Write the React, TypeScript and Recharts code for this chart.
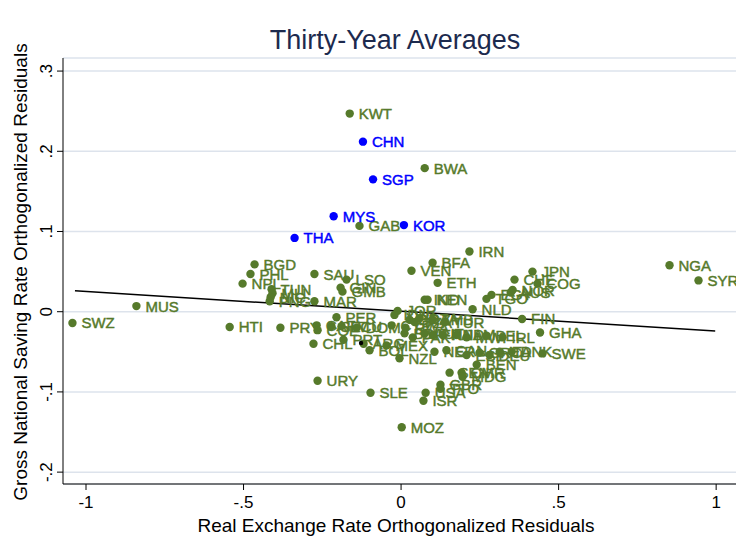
import { ScatterChart, Scatter, XAxis, YAxis, CartesianGrid, ReferenceLine } from "recharts";

// East Asian economies, highlighted in blue
const EAST_ASIA = [
  { code: "CHN", x: -0.121, y: 0.212 },
  { code: "SGP", x: -0.089, y: 0.165 },
  { code: "MYS", x: -0.214, y: 0.119 },
  { code: "KOR", x: 0.009, y: 0.108 },
  { code: "THA", x: -0.338, y: 0.092 },
];

// everyone else
const OTHERS = [
  { code: "KWT", x: -0.163, y: 0.247 },
  { code: "BWA", x: 0.075, y: 0.179 },
  { code: "GAB", x: -0.132, y: 0.107 },
  { code: "IRN", x: 0.217, y: 0.075 },
  { code: "BGD", x: -0.465, y: 0.059 },
  { code: "BFA", x: 0.1, y: 0.061 },
  { code: "PHL", x: -0.478, y: 0.047 },
  { code: "VEN", x: 0.033, y: 0.051 },
  { code: "SAU", x: -0.275, y: 0.047 },
  { code: "JPN", x: 0.417, y: 0.05 },
  { code: "LSO", x: -0.173, y: 0.04 },
  { code: "NPL", x: -0.503, y: 0.035 },
  { code: "ETH", x: 0.116, y: 0.036 },
  { code: "CHE", x: 0.36, y: 0.04 },
  { code: "COG", x: 0.433, y: 0.035 },
  { code: "NOR", x: 0.354, y: 0.027 },
  { code: "AUS", x: 0.348, y: 0.024 },
  { code: "EGY", x: 0.287, y: 0.021 },
  { code: "TGO", x: 0.271, y: 0.016 },
  { code: "IND", x: 0.075, y: 0.015 },
  { code: "KEN", x: 0.084, y: 0.015 },
  { code: "NLD", x: 0.227, y: 0.003 },
  { code: "JOR", x: -0.011, y: 0.001 },
  { code: "FIN", x: 0.384, y: -0.009 },
  { code: "GHA", x: 0.441, y: -0.026 },
  { code: "NGA", x: 0.852, y: 0.058 },
  { code: "SYR", x: 0.944, y: 0.039 },
  { code: "MUS", x: -0.84, y: 0.007 },
  { code: "SWZ", x: -1.043, y: -0.014 },
  { code: "HTI", x: -0.544, y: -0.019 },
  { code: "PRY", x: -0.383, y: -0.02 },
  { code: "TUN", x: -0.411, y: 0.028 },
  { code: "MLI", x: -0.408, y: 0.023 },
  { code: "NIC", x: -0.414, y: 0.018 },
  { code: "PNG", x: -0.417, y: 0.013 },
  { code: "MAR", x: -0.275, y: 0.013 },
  { code: "GIN", x: -0.192, y: 0.03 },
  { code: "GMB", x: -0.186, y: 0.025 },
  { code: "PER", x: -0.205, y: -0.007 },
  { code: "CAF", x: -0.268, y: -0.017 },
  { code: "COL", x: -0.265, y: -0.023 },
  { code: "SLV", x: -0.221, y: -0.018 },
  { code: "ECU", x: -0.189, y: -0.018 },
  { code: "DOM", x: -0.141, y: -0.02 },
  { code: "CYP", x: -0.03, y: -0.017 },
  { code: "IDN", x: -0.021, y: -0.004 },
  { code: "BRA", x: 0.027, y: -0.01 },
  { code: "RWA", x: 0.014, y: -0.02 },
  { code: "TZA", x: 0.043, y: -0.013 },
  { code: "DZA", x: 0.059, y: -0.008 },
  { code: "ZMB", x: 0.1, y: -0.01 },
  { code: "TUR", x: 0.138, y: -0.013 },
  { code: "CHL", x: -0.278, y: -0.04 },
  { code: "PRT", x: -0.183, y: -0.035 },
  { code: "ARG", x: -0.119, y: -0.04 },
  { code: "MEX", x: -0.046, y: -0.042 },
  { code: "BOL", x: -0.1, y: -0.048 },
  { code: "NZL", x: -0.005, y: -0.058 },
  { code: "URY", x: -0.265, y: -0.086 },
  { code: "SLE", x: -0.097, y: -0.101 },
  { code: "MOZ", x: 0.002, y: -0.144 },
  { code: "ISR", x: 0.071, y: -0.111 },
  { code: "USA", x: 0.078, y: -0.101 },
  { code: "GBR", x: 0.125, y: -0.091 },
  { code: "TTO", x: 0.125, y: -0.096 },
  { code: "SEN", x: 0.154, y: -0.076 },
  { code: "CMR", x: 0.192, y: -0.076 },
  { code: "MDG", x: 0.195, y: -0.081 },
  { code: "BEN", x: 0.24, y: -0.066 },
  { code: "NER", x: 0.106, y: -0.05 },
  { code: "CAN", x: 0.144, y: -0.048 },
  { code: "ESP", x: 0.208, y: -0.054 },
  { code: "GRC", x: 0.249, y: -0.051 },
  { code: "DEU", x: 0.281, y: -0.054 },
  { code: "ITA", x: 0.313, y: -0.05 },
  { code: "DNK", x: 0.351, y: -0.05 },
  { code: "SWE", x: 0.449, y: -0.052 },
  { code: "PAK", x: 0.037, y: -0.032 },
  { code: "BDI", x: 0.011, y: -0.027 },
  { code: "AUT", x: 0.075, y: -0.027 },
  { code: "FRA", x: 0.1, y: -0.029 },
  { code: "HND", x: 0.132, y: -0.029 },
  { code: "JAM", x: 0.176, y: -0.029 },
  { code: "MWI", x: 0.208, y: -0.032 },
  { code: "BEL", x: 0.271, y: -0.03 },
  { code: "IRL", x: 0.322, y: -0.032 },
];

const BLACK_MARK = [{ code: "", x: -0.127, y: -0.039 }];

// linear fit, endpoints
const FIT = [
  { x: -1.035, y: 0.026 },
  { x: 0.997, y: -0.024 },
];

const X_TICKS = [-1, -0.5, 0, 0.5, 1];
const Y_TICKS = [-0.2, -0.1, 0, 0.1, 0.2, 0.3];

const GREEN = "#567a2b";
const BLUE = "#0000ff";
const FONT = "'Liberation Sans', Arial, Helvetica, sans-serif";

function fmt(v: number) {
  if (v === 0) return "0";
  return String(Math.round(v * 10) / 10).replace("0.", ".");
}

const marker = (color: string, r: number, label: boolean) => (props: any) => {
  const { cx, cy, payload } = props;
  return (
    <g>
      <circle cx={cx} cy={cy} r={r} fill={color} />
      {label && (
        <text
          x={cx + 9}
          y={cy + 5.5}
          fill={color}
          stroke={color}
          strokeWidth={0.45}
          fontSize={15}
          fontFamily={FONT}
        >
          {payload.code}
        </text>
      )}
    </g>
  );
};

const YTick = (props: any) => {
  const { x, y, payload } = props;
  const tx = x - 3;
  return (
    <text
      x={tx}
      y={y}
      transform={`rotate(-90 ${tx} ${y})`}
      textAnchor="middle"
      fontSize={17}
      fontFamily={FONT}
      fill="#000"
    >
      {fmt(payload.value)}
    </text>
  );
};

export default function App() {
  return (
    <div style={{ position: "relative", width: 736, height: 553, background: "#fff" }}>
      <style>{`body{margin:0}`}</style>
      <ScatterChart width={736} height={553} margin={{ top: 58, right: 0, left: 0, bottom: 0 }}>
        <CartesianGrid vertical={false} stroke="#dde3ec" strokeWidth={1.5} />
        <XAxis
          dataKey="x"
          type="number"
          domain={[-1.073, 1.063]}
          ticks={X_TICKS}
          tickFormatter={fmt}
          allowDataOverflow
          height={69}
          tickSize={6}
          tickMargin={6}
          axisLine={{ stroke: "#000" }}
          tickLine={{ stroke: "#000" }}
          tick={{ fill: "#000", fontSize: 17, fontFamily: FONT }}
        />
        <YAxis
          dataKey="y"
          type="number"
          domain={[-0.2148, 0.3163]}
          ticks={Y_TICKS}
          allowDataOverflow
          width={63}
          tickSize={6}
          axisLine={{ stroke: "#000" }}
          tickLine={{ stroke: "#000" }}
          tick={<YTick />}
        />
        <Scatter data={OTHERS} shape={marker(GREEN, 4.2, true)} isAnimationActive={false} />
        <Scatter data={EAST_ASIA} shape={marker(BLUE, 4.2, true)} isAnimationActive={false} />
        <Scatter data={BLACK_MARK} shape={marker("#000", 2.2, false)} isAnimationActive={false} />
        <ReferenceLine
          segment={[FIT[0], FIT[1]]}
          stroke="#000"
          strokeWidth={1.5}
          ifOverflow="extendDomain"
        />
      </ScatterChart>
      <svg
        width={736}
        height={553}
        style={{ position: "absolute", left: 0, top: 0, pointerEvents: "none" }}
      >
        <text x={395} y={49} textAnchor="middle" fontSize={27} fontFamily={FONT} fill="#1c2a4e">
          Thirty-Year Averages
        </text>
        <text x={396} y={532} textAnchor="middle" fontSize={19} fontFamily={FONT} fill="#000">
          Real Exchange Rate Orthogonalized Residuals
        </text>
        <text
          x={27}
          y={272}
          transform="rotate(-90 27 272)"
          textAnchor="middle"
          fontSize={19}
          fontFamily={FONT}
          fill="#000"
        >
          Gross National Saving Rate Orthogonalized Residuals
        </text>
      </svg>
    </div>
  );
}
